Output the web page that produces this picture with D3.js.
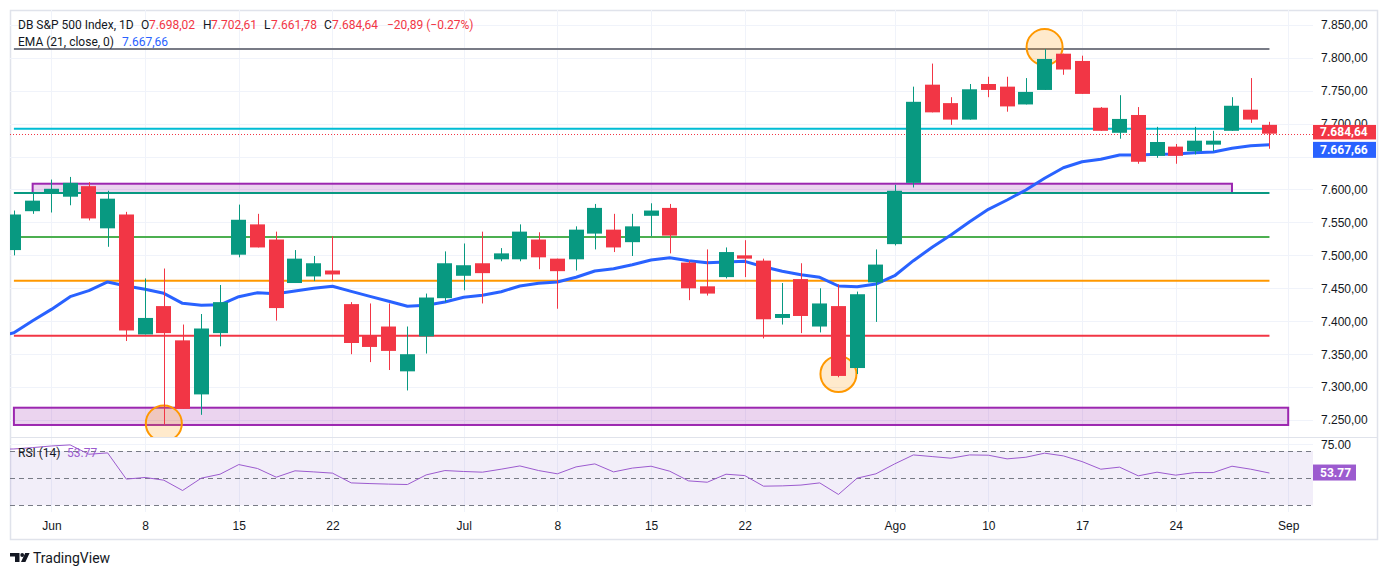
<!DOCTYPE html>
<html>
<head>
<meta charset="utf-8">
<script src="https://cdn.jsdelivr.net/npm/d3@7"></script>
<style>
    html, body { margin: 0; background: #fff; }
    svg { display: block; font-family: "Trebuchet MS", Roboto, sans-serif; }
</style>
</head>
<body>
<svg id="chart" width="1388" height="575"></svg>
<script>
// daily bars, index 0 = first visible bar
const opens = [7508, 7567, 7594, 7589, 7605, 7541, 7562, 7380, 7423, 7371,
    7289, 7382, 7501, 7547, 7524, 7458, 7468, 7477, 7426, 7379,
    7392, 7324, 7377, 7435, 7469, 7488, 7494, 7494, 7524, 7495,
    7494, 7533, 7539, 7520, 7560, 7572, 7489, 7453, 7467, 7500,
    7492, 7405, 7464, 7392, 7423, 7329, 7459, 7517, 7610, 7759,
    7731, 7706, 7760, 7756, 7729, 7751, 7806, 7795, 7724, 7686,
    7713, 7651, 7665, 7658, 7668, 7689, 7721, 7698.02];
const highs = [7568, 7595, 7615, 7619, 7611, 7598, 7566, 7465, 7480, 7395,
    7411, 7455, 7577, 7563, 7536, 7508, 7499, 7529, 7429, 7427,
    7427, 7392, 7442, 7506, 7518, 7536, 7511, 7547, 7535, 7495,
    7544, 7578, 7563, 7563, 7579, 7578, 7492, 7509, 7512, 7523,
    7495, 7458, 7488, 7450, 7456, 7445, 7509, 7607, 7756, 7791,
    7740, 7760, 7771, 7771, 7769, 7813, 7806, 7803, 7725, 7743,
    7725, 7695, 7669, 7695, 7689, 7740, 7769, 7702.61];
const lows = [7500, 7563, 7565, 7576, 7553, 7513, 7370, 7380, 7243, 7267,
    7258, 7362, 7497, 7512, 7401, 7458, 7461, 7462, 7350, 7338,
    7326, 7295, 7351, 7429, 7447, 7427, 7491, 7491, 7479, 7419,
    7477, 7509, 7505, 7499, 7529, 7503, 7432, 7439, 7465, 7467,
    7374, 7395, 7382, 7383, 7315, 7320, 7399, 7515, 7603, 7717,
    7698, 7706, 7740, 7718, 7729, 7751, 7774, 7745, 7689, 7677,
    7639, 7648, 7639, 7653, 7658, 7689, 7701, 7661.78];
const closes = [7562, 7583, 7601, 7610, 7556, 7586, 7386, 7405, 7382, 7267,
    7389, 7429, 7554, 7512, 7420, 7495, 7488, 7471, 7367, 7361,
    7355, 7350, 7436, 7488, 7485, 7473, 7503, 7536, 7497, 7476,
    7539, 7572, 7512, 7544, 7568, 7530, 7450, 7442, 7505, 7495,
    7403, 7411, 7408, 7427, 7317, 7441, 7486, 7598, 7733, 7717,
    7706, 7752, 7751, 7726, 7748, 7798, 7782, 7745, 7689, 7707,
    7642, 7672, 7651, 7674, 7674, 7727, 7706, 7684.64];

// indicator values start one bar before the first visible bar
const INDICATOR_START = -1;
const ema21 = [7374.6, 7382.6, 7400.8, 7418, 7437.3, 7446.4, 7459.6, 7453.5, 7448.5, 7442.4,
    7427.2, 7424.2, 7425, 7437.3, 7443.3, 7441.8, 7446, 7450, 7453, 7445.4,
    7437.8, 7430.3, 7422.7, 7424.2, 7429.2, 7436.3, 7439.4, 7444.8, 7453.5, 7457.6,
    7459.6, 7466.7, 7476.3, 7479.7, 7485.8, 7492.9, 7496.4, 7491.9, 7488.8, 7489.9,
    7490.9, 7482.8, 7475.8, 7470.6, 7466.7, 7453.5, 7452.4, 7456.5, 7469.1, 7491.9,
    7512.2, 7530.9, 7551, 7569.9, 7584, 7599.2, 7616.9, 7633, 7642.1, 7645.8,
    7652.3, 7652.3, 7653.3, 7653.8, 7655.8, 7656.8, 7662.4, 7666.4, 7667.66];
const rsi14 = [71.2, 71.5, 72.5, 73.7, 74.5, 67.6, 68.6, 49.3, 50.5, 48.5,
    40.9, 50, 52.9, 60, 57.1, 50.7, 55.4, 54.6, 53.7, 46.5,
    46, 45.6, 45.3, 52.4, 55.6, 54.9, 54.4, 56.6, 59, 55.6,
    53.2, 58.3, 60.5, 54.6, 57.4, 58.8, 55.1, 48, 47, 52.9,
    51.9, 44.1, 44.3, 44.9, 46.5, 38, 50, 53.2, 60.5, 67.1,
    65.9, 64.7, 67.1, 66.9, 64.2, 65.4, 68.4, 66.4, 62.2, 56.6,
    58.1, 51.7, 54.4, 52.2, 54.1, 54.1, 58.8, 56.6, 53.77];

// time axis
const tickBars = [2, 7, 12, 17, 24, 29, 34, 39, 47, 52, 57, 62, 68];
const tickLabels = ['Jun', '8', '15', '22', 'Jul', '8', '15', '22', 'Ago', '10', '17', '24', 'Sep'];
const priceTicks = d3.range(7250, 7851, 50);
const rsiBands = [70, 50, 30];

// drawings on the chart
const levelPrices = [7813, 7692, 7594.6, 7528, 7461.5, 7378];
const zoneTops = [7608.7, 7268.8];
const zoneBottoms = [7594.6, 7242.6];
const zoneFrom = [1, 0];
const zoneTo = [65, 68];
const markBars = [8, 44, 55];
const markPrices = [7245, 7320, 7816];

const UP = '#089981', DOWN = '#f23645', EMA_BLUE = '#2962ff', RSI_PURPLE = '#9c5bcf';
const TEXT = '#131722', GRID = '#f0f3fa', BORDER = '#e0e3eb';
const levelColors = ['#787b86', '#00bcd4', '#089981', '#4caf50', '#ff9800', '#f23645'];

const PANE = { left: 10, right: 1313, top: 10, bottom: 437 };
const RSI_PANE = { top: 438, bottom: 512 };

const svg = d3.select('#chart');
const x = d3.scaleLinear().domain([0, 68]).range([13.9, 1288.2]);
const y = d3.scaleLinear().domain([7250, 7850]).range([420.1, 24.7]);
const yr = d3.scaleLinear().domain([30, 70]).range([505.3, 451]);
const step = x(1) - x(0);
const bodyW = Math.round(step * 0.8);
const px = v => Math.round(v) + 0.5;

const comma = d3.formatLocale({ decimal: ',', thousands: '.', grouping: [3], currency: ['', ''] });
const fmtPrice = comma.format(',.2f');

const lastClose = closes[closes.length - 1];
const lastEma = ema21[ema21.length - 1];
const lastRsi = rsi14[rsi14.length - 1];
const closeLabelY = y(lastClose) - 1.5;
const emaLabelY = y(lastEma) + 5;

// outer frame
svg.append('rect')
    .attr('x', 10.5).attr('y', 10.5)
    .attr('width', 1367).attr('height', 529)
    .attr('fill', 'none').attr('stroke', BORDER).attr('stroke-width', 1.5);

const defs = svg.append('defs');
defs.append('clipPath').attr('id', 'clipMain').append('rect')
    .attr('x', PANE.left).attr('y', PANE.top)
    .attr('width', PANE.right - PANE.left).attr('height', PANE.bottom - PANE.top);
defs.append('clipPath').attr('id', 'clipRsi').append('rect')
    .attr('x', PANE.left).attr('y', RSI_PANE.top)
    .attr('width', PANE.right - PANE.left).attr('height', RSI_PANE.bottom - RSI_PANE.top);
// price labels get hidden behind the last-value tags
defs.append('clipPath').attr('id', 'clipTag').append('rect')
    .attr('x', 1300).attr('y', 0).attr('width', 88).attr('height', closeLabelY - 7.25);

// grid
const grid = svg.append('g').attr('stroke', GRID).attr('stroke-width', 1);
grid.selectAll('line.v').data(tickBars).join('line')
    .attr('class', 'v')
    .attr('x1', d => px(x(d))).attr('x2', d => px(x(d)))
    .attr('y1', PANE.top).attr('y2', RSI_PANE.bottom);
grid.selectAll('line.h').data(priceTicks).join('line')
    .attr('class', 'h')
    .attr('x1', PANE.left).attr('x2', PANE.right)
    .attr('y1', d => px(y(d))).attr('y2', d => px(y(d)));
grid.append('line')
    .attr('x1', PANE.left).attr('x2', PANE.right)
    .attr('y1', px(yr(75))).attr('y2', px(yr(75)));

// pane separator
svg.append('line')
    .attr('x1', PANE.left).attr('x2', 1378)
    .attr('y1', PANE.bottom + 0.5).attr('y2', PANE.bottom + 0.5)
    .attr('stroke', BORDER).attr('stroke-width', 1);

const main = svg.append('g').attr('clip-path', 'url(#clipMain)');

// zones
const zones = zoneTops.map((t, k) => ({ t, b: zoneBottoms[k], from: zoneFrom[k], to: zoneTo[k] }));
main.selectAll('rect.zone').data(zones).join('rect')
    .attr('class', 'zone')
    .attr('x', d => x(d.from)).attr('width', d => x(d.to) - x(d.from))
    .attr('y', d => y(d.t)).attr('height', d => y(d.b) - y(d.t))
    .attr('fill', 'rgba(156,39,176,0.2)')
    .attr('stroke', '#9c27b0').attr('stroke-width', 2);

// horizontal levels
main.selectAll('line.level').data(levelPrices).join('line')
    .attr('class', 'level')
    .attr('x1', x(0)).attr('x2', x(67))
    .attr('y1', d => y(d)).attr('y2', d => y(d))
    .attr('stroke', (d, k) => levelColors[k]).attr('stroke-width', 2);

// marker circles
main.selectAll('circle.mark').data(markBars).join('circle')
    .attr('class', 'mark')
    .attr('cx', d => x(d)).attr('cy', (d, k) => y(markPrices[k]))
    .attr('r', 18)
    .attr('fill', 'rgba(255,152,0,0.2)')
    .attr('stroke', '#ff9800').attr('stroke-width', 2);

// last close dotted line
main.append('line')
    .attr('x1', PANE.left).attr('x2', PANE.right)
    .attr('y1', px(y(lastClose))).attr('y2', px(y(lastClose)))
    .attr('stroke', DOWN).attr('stroke-width', 1).attr('stroke-dasharray', '1,2');

// EMA
const emaLine = d3.line()
    .x((d, k) => x(k + INDICATOR_START))
    .y(d => y(d));
main.append('path')
    .datum(ema21)
    .attr('d', emaLine)
    .attr('fill', 'none')
    .attr('stroke', EMA_BLUE).attr('stroke-width', 3)
    .attr('stroke-linejoin', 'round');

// candles
const bars = opens.map((o, i) => ({ i, o, h: highs[i], l: lows[i], c: closes[i] }));
const candle = main.selectAll('g.candle').data(bars).join('g')
    .attr('class', 'candle')
    .attr('fill', d => d.c >= d.o ? UP : DOWN)
    .attr('stroke', d => d.c >= d.o ? UP : DOWN);
candle.append('line')
    .attr('x1', d => px(x(d.i))).attr('x2', d => px(x(d.i)))
    .attr('y1', d => y(d.h)).attr('y2', d => y(d.l))
    .attr('stroke-width', 1);
candle.append('rect')
    .attr('stroke', 'none')
    .attr('x', d => Math.round(x(d.i) - bodyW / 2))
    .attr('width', bodyW)
    .attr('y', d => y(Math.max(d.o, d.c)))
    .attr('height', d => Math.max(1, Math.abs(y(d.o) - y(d.c))));

// RSI pane
const rsiG = svg.append('g').attr('clip-path', 'url(#clipRsi)');
rsiG.append('rect')
    .attr('x', PANE.left).attr('width', PANE.right - PANE.left)
    .attr('y', yr(70)).attr('height', yr(30) - yr(70))
    .attr('fill', 'rgba(126,87,194,0.1)');
rsiG.selectAll('line.band').data(rsiBands).join('line')
    .attr('class', 'band')
    .attr('x1', PANE.left).attr('x2', PANE.right)
    .attr('y1', d => px(yr(d))).attr('y2', d => px(yr(d)))
    .attr('stroke', '#787b86').attr('stroke-width', 1).attr('stroke-dasharray', '5,4');
const rsiLine = d3.line()
    .x((d, k) => x(k + INDICATOR_START))
    .y(d => yr(d));
rsiG.append('path')
    .datum(rsi14)
    .attr('d', rsiLine)
    .attr('fill', 'none')
    .attr('stroke', RSI_PURPLE).attr('stroke-width', 1);

// price axis
const priceAxis = svg.append('g')
    .attr('transform', 'translate(1321,0)')
    .call(d3.axisRight(y).tickValues(priceTicks).tickSize(0).tickPadding(0).tickFormat(fmtPrice));
const rsiAxis = svg.append('g')
    .attr('transform', 'translate(1321,0)')
    .call(d3.axisRight(yr).tickValues([75]).tickSize(0).tickPadding(0).tickFormat(d3.format('.2f')));
[priceAxis, rsiAxis].forEach(a => {
    a.select('.domain').remove();
    a.selectAll('text').attr('fill', TEXT).attr('font-size', 12).attr('font-family', null);
});
// ticks sitting under the value tags: the one above peeks out, the one below is covered
priceAxis.selectAll('.tick').each(function (d) {
    const ty = y(d);
    if (ty > closeLabelY - 14 && ty < closeLabelY + 7) {
        d3.select(this).attr('clip-path', null).select('text').attr('clip-path', 'url(#clipTagLocal)');
    }
    if (ty > emaLabelY - 9 && ty < emaLabelY + 9) d3.select(this).remove();
});
defs.append('clipPath').attr('id', 'clipTagLocal').append('rect')
    .attr('x', -20).attr('y', -30).attr('width', 100)
    .attr('height', 30 + (closeLabelY - 7.25) - y(7700));

// time axis
const timeAxis = svg.append('g')
    .attr('transform', `translate(0,${RSI_PANE.bottom})`)
    .call(d3.axisBottom(x).tickValues(tickBars).tickSize(0).tickPadding(9.5)
        .tickFormat((d, k) => tickLabels[k]));
timeAxis.select('.domain').remove();
timeAxis.selectAll('text').attr('fill', TEXT).attr('font-size', 12).attr('font-family', null);

// last value tags on the scale
function scaleLabel(yPos, h, color, text) {
    svg.append('rect')
        .attr('x', 1313).attr('y', yPos - h / 2)
        .attr('width', text.length > 5 ? 63 : 43).attr('height', h)
        .attr('fill', color);
    svg.append('text')
        .attr('x', 1320).attr('y', yPos)
        .attr('dy', '0.35em')
        .attr('fill', '#fff').attr('font-size', 12).attr('font-weight', 'bold')
        .text(text);
}
scaleLabel(closeLabelY, 14.5, DOWN, fmtPrice(lastClose));
scaleLabel(emaLabelY, 16, EMA_BLUE, fmtPrice(lastEma));
scaleLabel(yr(lastRsi) - 0.5, 16, RSI_PURPLE, d3.format('.2f')(lastRsi));

// legends
function legend(yPos, parts) {
    const t = svg.append('text').attr('y', yPos).attr('dy', '0.35em').attr('font-size', 12);
    parts.forEach(([xPos, str, color]) => {
        t.append('tspan').attr('x', xPos).attr('fill', color).text(str);
    });
}
const last = closes.length - 1;
legend(25, [
    [18, 'DB S&P 500 Index, 1D', TEXT],
    [141, 'O', TEXT], [149, fmtPrice(opens[last]), DOWN],
    [203, 'H', TEXT], [211, fmtPrice(highs[last]), DOWN],
    [264, 'L', TEXT], [271, fmtPrice(lows[last]), DOWN],
    [324, 'C', TEXT], [332, fmtPrice(closes[last]), DOWN],
    [387, '\u221220,89 (\u22120.27%)', DOWN]
]);
legend(42, [
    [18, 'EMA (21, close, 0)', TEXT],
    [122, fmtPrice(lastEma), EMA_BLUE]
]);
legend(453, [
    [18, 'RSI (14)', TEXT],
    [67, d3.format('.2f')(lastRsi), RSI_PURPLE]
]);

// TradingView logo
const logo = svg.append('g').attr('fill', TEXT);
logo.append('path').attr('d', 'M10,553 H19.5 V562 H15 V556.5 H10 Z');
logo.append('circle').attr('cx', 22.2).attr('cy', 555).attr('r', 1.9);
logo.append('path').attr('d', 'M25.2,553 H29.6 L25.4,562 H21 Z');
svg.append('text')
    .attr('x', 33).attr('y', 558).attr('dy', '0.35em')
    .attr('font-size', 14).attr('fill', TEXT)
    .text('TradingView');
</script>
</body>
</html>
